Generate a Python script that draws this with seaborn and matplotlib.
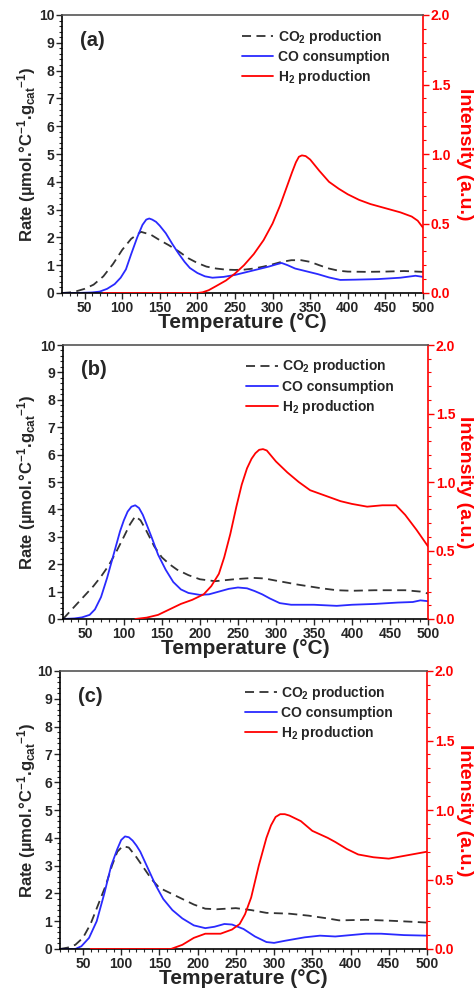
import matplotlib
matplotlib.use("Agg")
import matplotlib.pyplot as plt
from matplotlib.ticker import MultipleLocator
import seaborn as sns

sns.set_style("ticks")
plt.rcParams["font.family"] = ["Liberation Sans", "DejaVu Sans"]
plt.rcParams["font.weight"] = "bold"
plt.rcParams["mathtext.default"] = "regular"

# ---- panel (a) ----
a_co2_t = [20, 30, 40, 50, 62, 75, 88, 100, 112, 125, 138, 150, 162, 175, 188, 200, 212, 225, 238, 250,
           262, 275, 288, 300, 312, 325, 338, 350, 362, 375, 388, 400, 425, 450, 475, 500]
a_co2 = [0.0, 0.02, 0.07, 0.15, 0.3, 0.6, 1.05, 1.55, 1.95, 2.2, 2.1, 1.9, 1.72, 1.5, 1.25, 1.08, 0.95, 0.88,
         0.84, 0.83, 0.84, 0.88, 0.95, 1.03, 1.12, 1.18, 1.18, 1.12, 1.0, 0.88, 0.8, 0.77, 0.76, 0.77, 0.79, 0.76]
a_co_t = [20, 40, 60, 70, 80, 90, 98, 105, 112, 120, 127, 132, 136, 140, 145, 150, 158, 167, 175, 183, 190,
          200, 210, 220, 235, 250, 265, 280, 295, 305, 312, 320, 330, 345, 360, 375, 390, 410, 440, 470, 490, 500]
a_co = [0.0, 0.0, 0.02, 0.05, 0.15, 0.32, 0.55, 0.85, 1.4, 2.0, 2.45, 2.64, 2.68, 2.64, 2.56, 2.42, 2.15,
        1.75, 1.42, 1.12, 0.9, 0.72, 0.6, 0.55, 0.58, 0.65, 0.75, 0.85, 0.95, 1.03, 1.08, 1.0, 0.88, 0.78,
        0.68, 0.56, 0.47, 0.48, 0.5, 0.55, 0.62, 0.58]
a_h2_t = [75, 120, 160, 200, 207, 215, 225, 238, 250, 262, 275, 288, 300, 310, 320, 326, 331, 335, 339, 344,
          350, 356, 362, 375, 388, 400, 415, 430, 450, 470, 485, 493, 500]
a_h2 = [0.0, 0.0, 0.0, 0.0, 0.005, 0.02, 0.05, 0.09, 0.14, 0.2, 0.28, 0.38, 0.5, 0.63, 0.78, 0.87, 0.94,
        0.98, 0.99, 0.985, 0.96, 0.92, 0.88, 0.8, 0.75, 0.71, 0.67, 0.64, 0.61, 0.58, 0.55, 0.52, 0.47]

# ---- panel (b) ----
b_co2_t = [20, 35, 50, 60, 70, 80, 90, 100, 108, 115, 122, 130, 140, 150, 160, 170, 185, 200, 220, 245,
           270, 285, 300, 330, 360, 380, 400, 430, 470, 490, 500]
b_co2 = [0.0, 0.45, 0.9, 1.2, 1.55, 1.95, 2.45, 3.0, 3.45, 3.75, 3.6, 3.2, 2.65, 2.25, 2.0, 1.8, 1.6, 1.45,
         1.38, 1.45, 1.5, 1.48, 1.4, 1.25, 1.12, 1.05, 1.03, 1.05, 1.05, 1.0, 0.93]
b_co_t = [20, 35, 45, 55, 62, 70, 78, 86, 95, 100, 105, 110, 115, 120, 125, 130, 137, 145, 155, 165, 175, 185,
          200, 212, 225, 238, 250, 262, 272, 282, 292, 305, 320, 350, 380, 400, 430, 460, 480, 490, 500]
b_co = [0.0, 0.02, 0.06, 0.15, 0.35, 0.8, 1.5, 2.3, 3.2, 3.6, 3.92, 4.1, 4.15, 4.05, 3.8, 3.45, 2.95, 2.35,
        1.8, 1.35, 1.08, 0.95, 0.88, 0.9, 1.0, 1.1, 1.15, 1.12, 1.02, 0.9, 0.75, 0.58, 0.52, 0.52, 0.48, 0.52,
        0.55, 0.6, 0.62, 0.68, 0.65]
b_h2_t = [115, 130, 145, 160, 175, 190, 205, 215, 225, 232, 240, 248, 255, 262, 268, 273, 278, 283, 288, 294,
          300, 315, 330, 345, 365, 385, 400, 420, 440, 458, 470, 485, 500]
b_h2 = [0.0, 0.01, 0.03, 0.07, 0.11, 0.14, 0.18, 0.24, 0.33, 0.45, 0.62, 0.82, 0.98, 1.1, 1.17, 1.21, 1.235,
        1.24, 1.23, 1.19, 1.15, 1.07, 1.0, 0.94, 0.9, 0.86, 0.84, 0.82, 0.83, 0.83, 0.76, 0.65, 0.53]

# ---- panel (c) ----
c_co2_t = [20, 30, 40, 50, 60, 70, 80, 88, 95, 102, 110, 120, 130, 140, 150, 165, 180, 195, 210, 225, 250,
           270, 290, 320, 345, 370, 385, 420, 450, 480, 500]
c_co2 = [0.0, 0.05, 0.15, 0.4, 0.9, 1.6, 2.3, 3.0, 3.5, 3.7, 3.65, 3.3, 2.9, 2.5, 2.2, 2.0, 1.8, 1.6, 1.45,
         1.43, 1.47, 1.4, 1.3, 1.27, 1.2, 1.1, 1.03, 1.05, 1.02, 0.98, 0.95]
c_co_t = [20, 40, 48, 58, 68, 78, 87, 95, 100, 105, 110, 115, 120, 125, 135, 145, 155, 167, 180, 195, 210, 222,
          235, 245, 260, 275, 290, 300, 315, 340, 360, 380, 400, 420, 440, 470, 500]
c_co = [0.0, 0.0, 0.1, 0.4, 1.0, 2.0, 3.0, 3.6, 3.92, 4.05, 4.02, 3.9, 3.72, 3.5, 2.9, 2.3, 1.8, 1.4, 1.1,
        0.85, 0.75, 0.8, 0.9, 0.88, 0.72, 0.45, 0.25, 0.22, 0.3, 0.42, 0.48, 0.45, 0.5, 0.55, 0.55, 0.5, 0.48]
c_h2_t = [60, 120, 165, 180, 195, 210, 230, 245, 255, 262, 270, 280, 290, 296, 302, 308, 314, 320, 335, 350,
          370, 380, 395, 410, 430, 450, 470, 490, 500]
c_h2 = [0.0, 0.0, 0.0, 0.03, 0.08, 0.11, 0.11, 0.14, 0.18, 0.25, 0.37, 0.6, 0.8, 0.89, 0.95, 0.97, 0.97,
        0.96, 0.92, 0.85, 0.8, 0.77, 0.72, 0.68, 0.66, 0.65, 0.67, 0.69, 0.7]

panels = [
    ("(a)", a_co2_t, a_co2, a_co_t, a_co, a_h2_t, a_h2, [62, 423, 15, 293]),
    ("(b)", b_co2_t, b_co2, b_co_t, b_co, b_h2_t, b_h2, [63, 428, 345, 619]),
    ("(c)", c_co2_t, c_co2, c_co_t, c_co, c_h2_t, c_h2, [60, 427, 671, 949]),
]

W, H = 474, 994
fig = plt.figure(figsize=(W / 100, H / 100), dpi=100)

RED = "#ff0000"
BLUE = "#2a2aff"
DARK = "#333333"

for label, co2_t, co2, co_t, co, h2_t, h2, (l, r, t, b) in panels:
    ax = fig.add_axes([l / W, 1 - b / H, (r - l) / W, (b - t) / H])
    ax2 = ax.twinx()

    sns.lineplot(x=co2_t, y=co2, ax=ax, color=DARK, lw=1.3, linestyle=(0, (5, 3)))
    sns.lineplot(x=co_t, y=co, ax=ax, color=BLUE, lw=1.3)
    sns.lineplot(x=h2_t, y=h2, ax=ax2, color=RED, lw=1.3)

    ax.set_xlim(20, 500)
    ax.set_ylim(0, 10)
    ax2.set_ylim(0, 2.0)
    ax.set_xticks(range(50, 501, 50))
    ax.xaxis.set_minor_locator(MultipleLocator(10))
    ax.yaxis.set_major_locator(MultipleLocator(1))
    ax.yaxis.set_minor_locator(MultipleLocator(0.2))
    ax2.yaxis.set_major_locator(MultipleLocator(0.5))
    ax2.yaxis.set_minor_locator(MultipleLocator(0.1))
    ax2.yaxis.set_major_formatter(plt.FormatStrFormatter("%.1f"))

    ax.tick_params(axis="both", which="major", labelsize=10, length=4, width=1, pad=1.5)
    ax.tick_params(axis="both", which="minor", length=2, width=0.8)
    ax2.tick_params(axis="y", which="major", labelsize=10, length=4, width=1, pad=1.5,
                    colors=RED)
    ax2.tick_params(axis="y", which="minor", length=2, width=0.8, colors=RED)
    for tl in ax.get_xticklabels() + ax.get_yticklabels() + ax2.get_yticklabels():
        tl.set_fontweight("bold")

    for s in ["left", "bottom"]:
        ax.spines[s].set_color("black")
        ax.spines[s].set_linewidth(1.2)
    ax2.spines["right"].set_color(RED)
    ax2.spines["right"].set_linewidth(1.2)
    ax2.spines["top"].set_color("#555555")
    ax2.spines["top"].set_linewidth(1.2)
    ax2.spines["left"].set_visible(False)
    ax2.spines["bottom"].set_visible(False)
    ax.spines["top"].set_visible(False)
    ax.spines["right"].set_visible(False)

    ymid = 1 - (t + b) / 2 / H
    ax.set_xlabel("Temperature (°C)", fontsize=15, fontweight="bold", labelpad=-1)
    ax.set_ylabel("Rate (µmol.°C$^{-1}$.g$_{cat}$$^{-1}$)", fontsize=12, fontweight="bold",
                  va="center", ha="center")
    ax.yaxis.set_label_coords(27 / W, ymid, transform=fig.transFigure)
    ax2.set_ylabel("Intensity (a.u.)", fontsize=14, fontweight="bold", color=RED,
                   rotation=270, va="center", ha="center")
    ax2.yaxis.set_label_coords(464 / W, ymid, transform=fig.transFigure)

    ax.text(0.05, 0.91, label, transform=ax.transAxes, fontsize=14.5, fontweight="bold",
            va="center", ha="left")

    handles = [ax.lines[0], ax.lines[1], ax2.lines[0]]
    names = ["CO$_2$ production", "CO consumption", "H$_2$ production"]
    ax.legend(handles, names, loc="upper right", bbox_to_anchor=(0.93, 0.985), frameon=False,
              prop={"size": 10, "weight": "bold"}, handlelength=2.3, handletextpad=0.3,
              labelspacing=0.3, borderaxespad=0.2)

fig.savefig("out.png", dpi=100)
